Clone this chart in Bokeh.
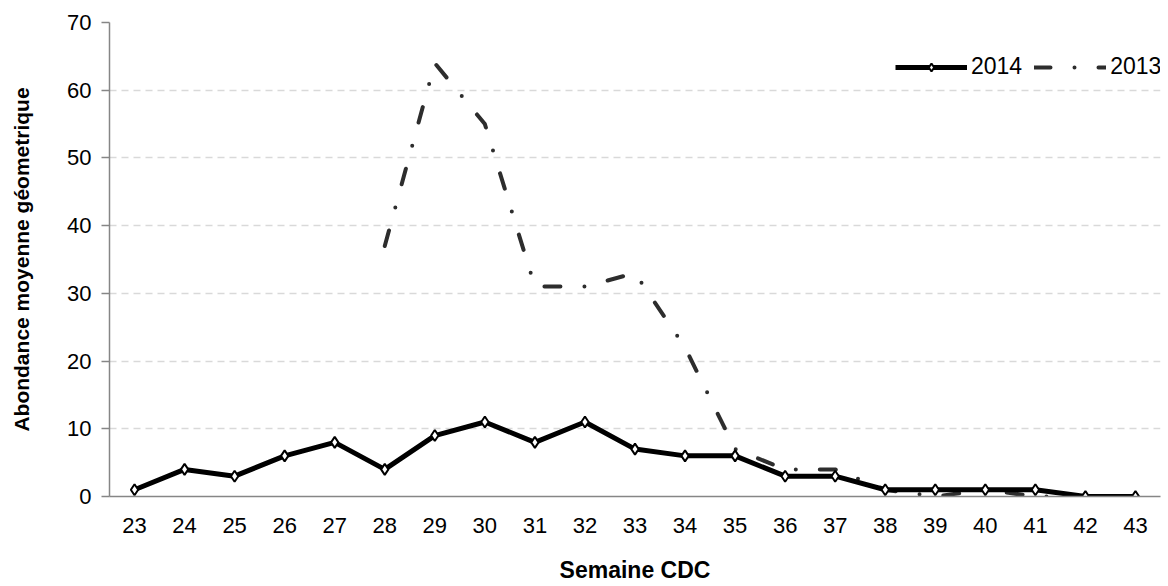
from bokeh.plotting import figure
from bokeh.models import FactorRange, Range1d, Legend, LegendItem, FixedTicker
from bokeh.embed import file_html
from bokeh.resources import INLINE

# ---- data ----
weeks = [str(w) for w in range(23, 44)]
val_2014 = [1, 4, 3, 6, 8, 4, 9, 11, 8, 11, 7, 6, 6, 3, 3, 1, 1, 1, 1, 0, 0]
weeks_2013 = [str(w) for w in range(28, 44)]
val_2013 = [37, 64, 55, 31, 31, 33, 22, 7, 4, 4, 1, 0, 1, 0, 0, 0]
y_ticks = [0, 10, 20, 30, 40, 50, 60, 70]
x_title = "Semaine CDC"
y_title = "Abondance moyenne géometrique"

FONT = "Liberation Sans"
AXIS_COLOR = "#868686"

p = figure(width=1168, height=586,
           x_range=FactorRange(*weeks), y_range=Range1d(0, 70),
           output_backend="svg", toolbar_location=None,
           min_border_left=109, min_border_right=8,
           min_border_top=22, min_border_bottom=90)
p.outline_line_color = None
p.background_fill_color = "white"

# grid
p.xgrid.grid_line_color = None
p.ygrid.grid_line_color = "#d9d9d9"
p.ygrid.grid_line_width = 1.5
p.ygrid.grid_line_dash = "7 5"
p.ygrid.ticker = FixedTicker(ticks=y_ticks)

# y axis
p.yaxis.ticker = FixedTicker(ticks=y_ticks)
p.yaxis.axis_line_color = AXIS_COLOR
p.yaxis.axis_line_width = 1.5
p.yaxis.major_tick_line_color = AXIS_COLOR
p.yaxis.major_tick_line_width = 1.5
p.yaxis.major_tick_out = 8
p.yaxis.major_tick_in = 0
p.yaxis.minor_tick_line_color = None
p.yaxis.major_label_text_font = FONT
p.yaxis.major_label_text_font_size = "22px"
p.yaxis.major_label_text_color = "black"
p.yaxis.major_label_standoff = 10
p.yaxis.axis_label = y_title
p.yaxis.axis_label_text_font = FONT
p.yaxis.axis_label_text_font_size = "21px"
p.yaxis.axis_label_text_font_style = "bold"
p.yaxis.axis_label_text_color = "black"
p.yaxis.axis_label_standoff = 31

# x axis
p.xaxis.axis_line_color = AXIS_COLOR
p.xaxis.axis_line_width = 1.5
p.xaxis.major_tick_line_color = None
p.xaxis.major_tick_out = 0
p.xaxis.major_tick_in = 0
p.xaxis.minor_tick_line_color = None
p.xaxis.major_label_text_font = FONT
p.xaxis.major_label_text_font_size = "22px"
p.xaxis.major_label_text_color = "black"
p.xaxis.major_label_standoff = 21
p.xaxis.axis_label = x_title
p.xaxis.axis_label_text_font = FONT
p.xaxis.axis_label_text_font_size = "23px"
p.xaxis.axis_label_text_font_style = "bold"
p.xaxis.axis_label_text_color = "black"
p.xaxis.axis_label_standoff = 21

# series
r13 = p.line(weeks_2013, val_2013, line_color="#2d2d2d", line_width=4,
             line_dash="16 24 0 24", line_cap="round", line_join="round")
r14 = p.line(weeks, val_2014, line_color="black", line_width=5, line_join="round")
m14 = p.scatter(weeks, val_2014, marker="diamond", size=11,
                fill_color="white", line_color="black", line_width=2)

legend = Legend(items=[LegendItem(label="2014", renderers=[r14, m14]),
                       LegendItem(label="2013", renderers=[r13])],
                orientation="horizontal", location=(786, 416),
                glyph_width=72, glyph_height=20, label_height=20,
                label_standoff=4, spacing=12, padding=0, margin=0,
                border_line_alpha=0, background_fill_alpha=0,
                label_text_font=FONT, label_text_font_size="23px",
                label_text_color="black")
p.add_layout(legend)

open("out.html", "w").write(file_html(p, INLINE))
